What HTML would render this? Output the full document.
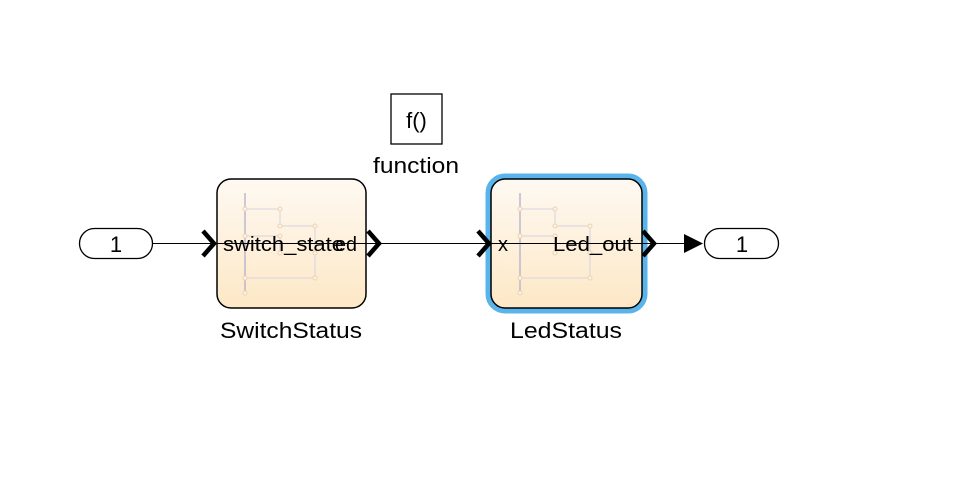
<!DOCTYPE html>
<html><head><style>
body{margin:0;background:#fff;width:959px;height:493px;overflow:hidden}
svg{display:block}
text{font-family:"Liberation Sans",sans-serif;fill:#000}
</style></head><body>
<svg width="959" height="493" viewBox="0 0 959 493">
<defs>
<linearGradient id="g" x1="0" y1="0" x2="0" y2="1">
<stop offset="0" stop-color="#fef9f2"/><stop offset="1" stop-color="#fde8c6"/>
</linearGradient>
<g id="deco" fill="none" stroke="#d6d2e2" stroke-width="1">
<line x1="0" y1="0" x2="0" y2="100" stroke="#9a9ac8"/>
<path d="M0 16 H35 V33 H70 V85 H0"/>
<path d="M0 43 H35 V60"/>
<g fill="#fff4e0" stroke="#ecd2b4"><circle cx="0" cy="16" r="2"/><circle cx="35" cy="16" r="2"/><circle cx="35" cy="33" r="2"/><circle cx="70" cy="33" r="2"/><circle cx="0" cy="43" r="2"/><circle cx="35" cy="43" r="2"/><circle cx="35" cy="60" r="2"/><circle cx="70" cy="60" r="2"/><circle cx="0" cy="85" r="2"/><circle cx="70" cy="85" r="2"/><circle cx="0" cy="100" r="2"/></g>
</g>
</defs>
<!-- f() -->
<rect x="391" y="94" width="51" height="50" fill="#fff" stroke="#000" stroke-width="1.3"/>
<text x="416.5" y="128" font-size="22" text-anchor="middle">f()</text>
<text x="373" y="173" font-size="22" textLength="86" lengthAdjust="spacingAndGlyphs">function</text>
<!-- inport -->
<rect x="79.5" y="228.5" width="73" height="30" rx="15" fill="#fff" stroke="#000" stroke-width="1.3"/>
<text x="116" y="252" font-size="22" text-anchor="middle">1</text>
<!-- SwitchStatus -->
<rect x="217" y="179" width="149" height="129" rx="14" fill="url(#g)" stroke="#000" stroke-width="1.5"/>
<use href="#deco" x="245" y="193"/>
<!-- LedStatus -->
<rect x="488" y="176" width="157" height="135" rx="17" fill="none" stroke="#5ab4ec" stroke-width="5"/>
<rect x="491" y="179" width="151" height="129" rx="14" fill="url(#g)" stroke="#000" stroke-width="1.5"/>
<use href="#deco" x="520" y="193"/>
<!-- lines -->
<line x1="153" y1="243.5" x2="684" y2="243.5" stroke="#000" stroke-width="1"/>
<polygon points="684,234 703,243.5 684,253" fill="#000"/>
<g fill="none" stroke="#000" stroke-width="4.5" stroke-linejoin="miter">
<polyline points="203,231 214,243.5 203,256"/>
<polyline points="368,231 379,243.5 368,256"/>
<polyline points="478,231 489,243.5 478,256"/>
<polyline points="643,231 654,243.5 643,256"/>
</g>
<!-- outport -->
<rect x="704.5" y="228.5" width="74" height="30" rx="15" fill="#fff" stroke="#000" stroke-width="1.3"/>
<text x="742" y="252" font-size="22" text-anchor="middle">1</text>
<!-- port labels -->
<text x="223" y="251" font-size="20" textLength="121" lengthAdjust="spacingAndGlyphs">switch_state</text>
<text x="335" y="251" font-size="20" textLength="22" lengthAdjust="spacingAndGlyphs">ed</text>
<text x="498" y="251" font-size="20">x</text>
<text x="553" y="251" font-size="20" textLength="80" lengthAdjust="spacingAndGlyphs">Led_out</text>
<!-- names -->
<text x="220" y="338" font-size="22" textLength="142" lengthAdjust="spacingAndGlyphs">SwitchStatus</text>
<text x="510" y="338" font-size="22" textLength="112" lengthAdjust="spacingAndGlyphs">LedStatus</text>
</svg>
</body></html>
